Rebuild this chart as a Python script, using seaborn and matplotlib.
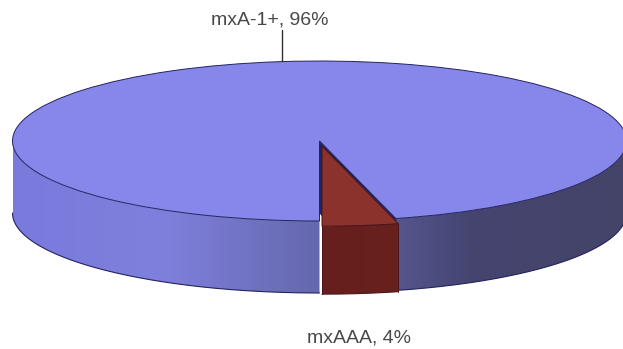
import numpy as np
import matplotlib
matplotlib.use("Agg")
import matplotlib.pyplot as plt
from matplotlib.patches import Polygon
import seaborn as sns

sns.set_theme(style="white")
plt.rcParams['font.family'] = ['Liberation Sans', 'DejaVu Sans']

categories = ["mxA-1+", "mxAAA"]
shares = [96, 4]
slice_explode = [0, 0.065]

FIG_W, FIG_H = 623, 349
CX, CY = 319.5, 141     # disc centre, pixels
RX, RY = 307, 80        # disc radii, pixels
DEPTH = 72 / RY         # disc thickness in data units
SLICE_DEPTH = 68 / RY   # the pulled-out slice reads slightly thinner

top_colors = ["#8787EB", "#8C322C"]
wall_ramp = sns.blend_palette(["#7A7ADE", "#7F7FDC", "#6468AC", "#444470", "#444469"], 256)
slice_ramp = sns.blend_palette(["#5F1C1C", "#6E231E"], 64)
navy = "#23235F"
maroon = "#4A1518"

fig = plt.figure(figsize=(FIG_W / 100, FIG_H / 100), dpi=100)
ax = fig.add_axes([0, 0, 1, 1])

wedges, _ = ax.pie(
    shares, explode=slice_explode, colors=top_colors, radius=1,
    startangle=270 + 360 * shares[1] / sum(shares) - 360,
    wedgeprops=dict(linewidth=0.7, edgecolor=navy),
)
ax.set_aspect("auto")
xlim = (-CX / RX, (FIG_W - CX) / RX)
ylim = (-(FIG_H - CY) / RY, CY / RY)
ax.set_xlim(*xlim)
ax.set_ylim(*ylim)
ax.axis("off")


def draw_wall(wedge, ramp, depth, z, outline):
    """Extrude the camera-facing part of a wedge's rim with a horizontal shade."""
    cx, cy = wedge.center
    shade = np.array(ramp)[np.newaxis, :, :]
    for lo, hi in [(-180, 0), (180, 360)]:
        a, b = max(wedge.theta1, lo), min(wedge.theta2, hi)
        if b <= a:
            continue
        t = np.radians(np.linspace(a, b, 200))
        xs, ys = cx + np.cos(t), cy + np.sin(t)
        outline_pts = np.r_[np.c_[xs, ys], np.c_[xs[::-1], ys[::-1] - depth]]
        clip = Polygon(outline_pts, closed=True, transform=ax.transData,
                       facecolor="none", edgecolor="none")
        ax.add_patch(clip)
        im = ax.imshow(shade, extent=(cx - 1, cx + 1, ys.min() - depth, ys.max()),
                       aspect="auto", interpolation="bilinear", zorder=z)
        im.set_clip_path(clip)
        ax.plot(xs, ys - depth, color=outline, lw=0.8, zorder=z + 0.1)


main, small = wedges
main.set_zorder(3)
small.set_zorder(6)
small.set_edgecolor(maroon)

draw_wall(main, wall_ramp, DEPTH, 2, navy)

# inner cut face of the large slice, seen through the gap left by the small one
edge = np.radians(main.theta1)
ax.add_patch(Polygon(
    [(0, 0), (np.cos(edge), np.sin(edge)),
     (np.cos(edge), np.sin(edge) - DEPTH), (0, -DEPTH)],
    closed=True, facecolor=navy, edgecolor=navy, lw=0.5, zorder=2.5))

draw_wall(small, slice_ramp, SLICE_DEPTH, 5, maroon)

# front corners of the small slice
cx, cy = small.center
for ang in (small.theta1, small.theta2):
    px, py = cx + np.cos(np.radians(ang)), cy + np.sin(np.radians(ang))
    ax.plot([px, px], [py, py - SLICE_DEPTH], color=maroon, lw=0.7, zorder=5.5)

ax.set_xlim(*xlim)
ax.set_ylim(*ylim)

label_color = "#484848"
leader_x = (282 - CX) / RX
ax.plot([leader_x, leader_x], [(CY - 61) / RY, (CY - 30) / RY],
        color="#303030", lw=1.0, zorder=8)
ax.text((269.5 - CX) / RX, (CY - 20) / RY, f"{categories[0]}, {shares[0]}%",
        ha="center", va="center", fontsize=14, color=label_color, zorder=8)
ax.text((359 - CX) / RX, (CY - 338) / RY, f"{categories[1]}, {shares[1]}%",
        ha="center", va="center", fontsize=14, color=label_color, zorder=8)

fig.savefig("out.png", dpi=100, facecolor="white")
